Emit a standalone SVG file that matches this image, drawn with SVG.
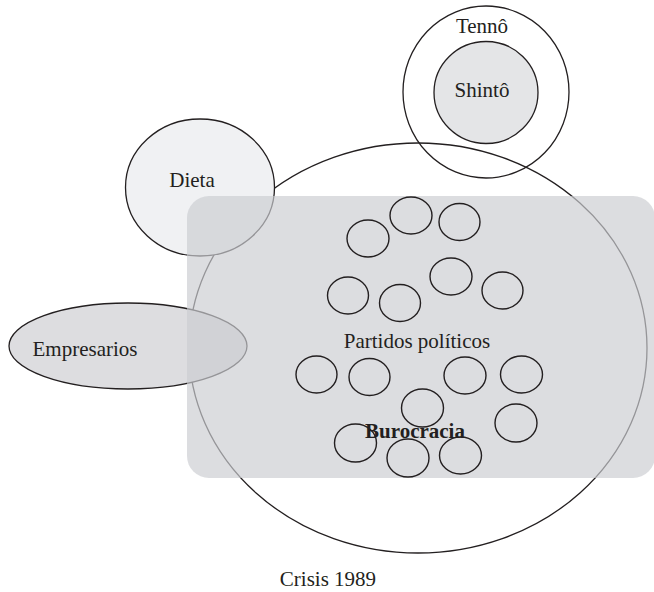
<svg xmlns="http://www.w3.org/2000/svg" width="654" height="592" viewBox="0 0 654 592">
<style>
text{font-family:"Liberation Serif","Times New Roman",serif;font-size:21px;fill:#231f20;text-anchor:middle}
.ln{stroke:#231f20;stroke-width:1.3}
.sm{fill:none;stroke:#231f20;stroke-width:1.4}
</style>
<rect width="654" height="592" fill="#ffffff"/>
<g id="partidos-circle"><ellipse class="ln" cx="418" cy="348" rx="229" ry="205" fill="none"/></g>
<g id="dieta"><ellipse class="ln" cx="200" cy="187.5" rx="74.5" ry="68.5" fill="#f0f1f3"/><text x="192" y="187">Dieta</text></g>
<g id="empresarios"><ellipse class="ln" cx="128" cy="346" rx="119" ry="43" fill="#dddde0"/><text x="85" y="356">Empresarios</text></g>
<g id="tenno"><ellipse class="ln" cx="486" cy="92" rx="83" ry="86" fill="none"/><text x="482" y="33">Tennô</text></g>
<g id="shinto"><ellipse class="ln" cx="486" cy="92.5" rx="52" ry="51" fill="#e4e5e7"/><text x="482" y="97">Shintô</text></g>
<g id="burocracia-area"><rect x="187" y="196" width="468" height="282" rx="22" fill="#cccdd1" opacity="0.68"/></g>
<g id="small-circles">
<ellipse class="sm" cx="411" cy="215.5" rx="21" ry="18.5"/>
<ellipse class="sm" cx="459.5" cy="222" rx="20.5" ry="18.5"/>
<ellipse class="sm" cx="368" cy="238.5" rx="21" ry="18.5"/>
<ellipse class="sm" cx="451" cy="276.5" rx="21" ry="18.5"/>
<ellipse class="sm" cx="348" cy="295.5" rx="20.5" ry="18.5"/>
<ellipse class="sm" cx="400" cy="303" rx="20.5" ry="18.5"/>
<ellipse class="sm" cx="502.5" cy="290.5" rx="20.5" ry="18.5"/>
<ellipse class="sm" cx="316.5" cy="374.5" rx="20.5" ry="18.5"/>
<ellipse class="sm" cx="369.5" cy="377" rx="20.5" ry="18.5"/>
<ellipse class="sm" cx="465" cy="375.5" rx="21" ry="18.5"/>
<ellipse class="sm" cx="521.5" cy="374.5" rx="21" ry="18.5"/>
<ellipse class="sm" cx="422.5" cy="408" rx="21" ry="19"/>
<ellipse class="sm" cx="516" cy="423" rx="21" ry="19"/>
<ellipse class="sm" cx="355.5" cy="443" rx="21" ry="19"/>
<ellipse class="sm" cx="408" cy="458" rx="21" ry="19"/>
<ellipse class="sm" cx="460.5" cy="455.5" rx="21" ry="18.5"/>
</g>
<g id="labels">
<text x="417" y="348">Partidos políticos</text>
<text x="415" y="438" font-weight="bold" font-size="20">Burocracia</text>
<text x="328" y="586">Crisis 1989</text>
</g>
</svg>
